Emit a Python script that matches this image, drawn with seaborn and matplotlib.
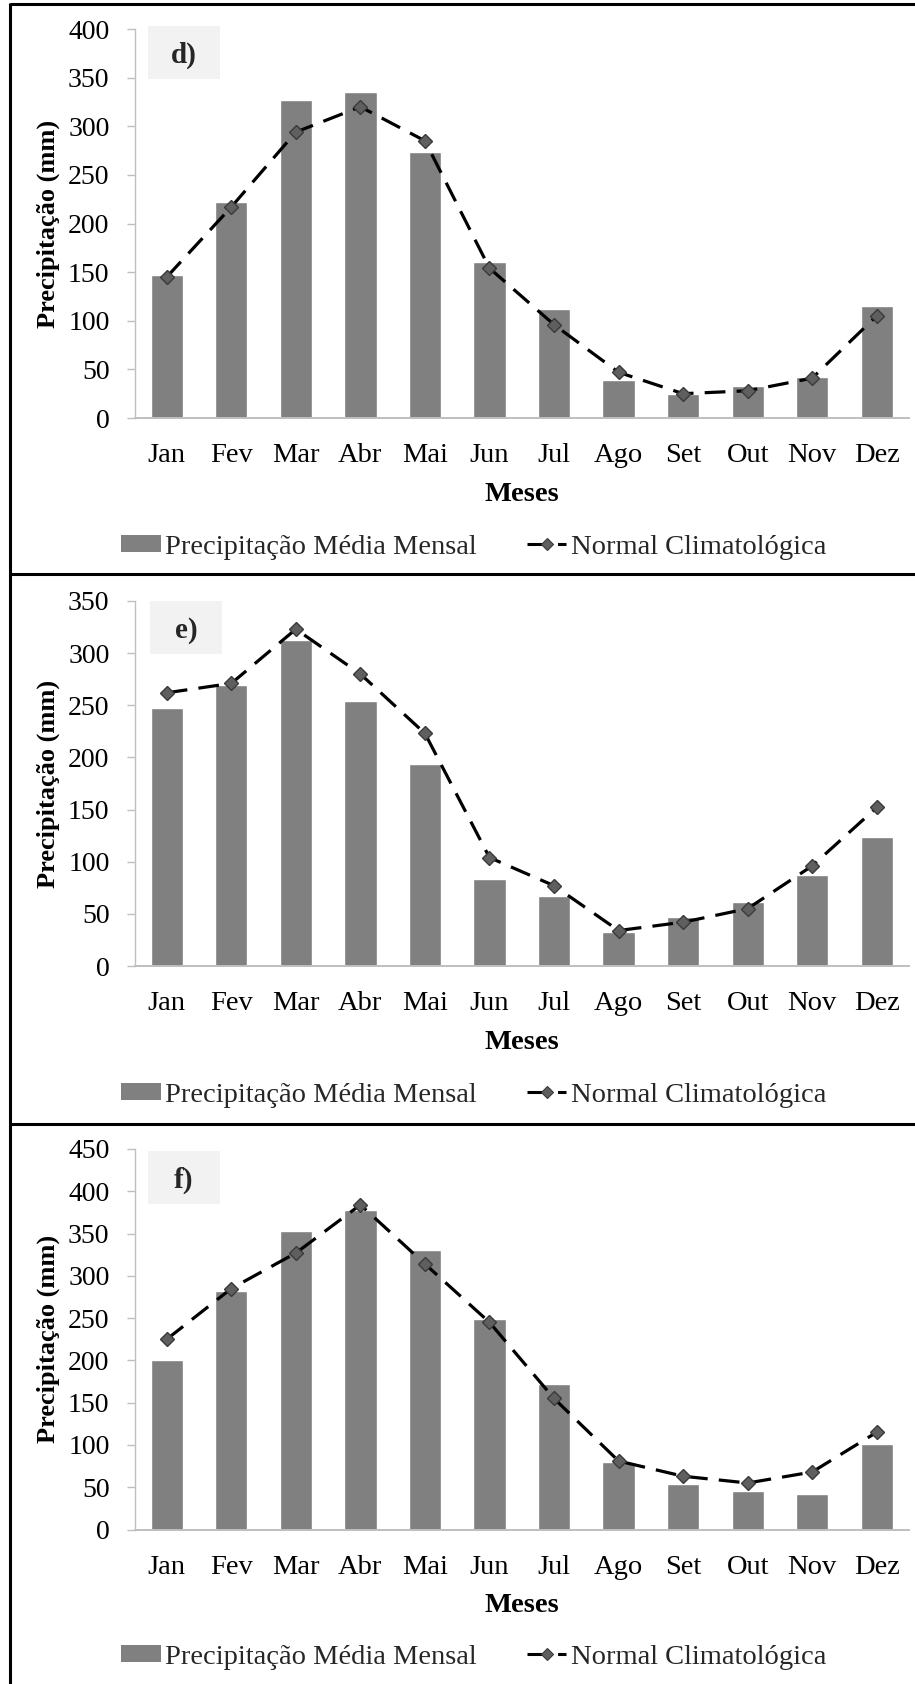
import matplotlib
matplotlib.use("Agg")
import matplotlib.pyplot as plt
from matplotlib.lines import Line2D
from matplotlib.patches import Rectangle
import seaborn as sns
import pandas as pd

# Monthly precipitation (mm): observed monthly mean (bars) and climatological normal (line)
months = ["Jan", "Fev", "Mar", "Abr", "Mai", "Jun", "Jul", "Ago", "Set", "Out", "Nov", "Dez"]

media_d = [147, 222, 327, 335, 274, 160, 112, 39, 25, 33, 42, 115]
normal_d = [145, 217, 294, 320, 285, 154, 96, 47, 25, 28, 41, 105]

media_e = [247, 269, 313, 254, 194, 83, 67, 33, 47, 61, 87, 124]
normal_e = [262, 271, 323, 280, 223, 104, 77, 34, 42, 55, 96, 152]

media_f = [200, 282, 353, 378, 331, 249, 172, 80, 54, 45, 42, 101]
normal_f = [225, 285, 327, 384, 314, 245, 155, 81, 63, 55, 68, 115]

panel_labels = ["d)", "e)", "f)"]
y_max = [400, 350, 450]

bar_label = "Precipitação Média Mensal"
line_label = "Normal Climatológica"
x_title = "Meses"
y_title = "Precipitação (mm)"

sns.set_theme(style="white")
plt.rcParams["font.family"] = ["Liberation Serif", "DejaVu Serif"]

W, H = 915, 1684
fig = plt.figure(figsize=(W / 100, H / 100), dpi=100)

BAR_COLOR = "#808080"
AXIS_GRAY = "#bfbfbf"
FS_X = 20.5   # month labels, axis title, legend
FS_Y = 20     # value ticks
FS_YL = 19    # vertical axis title


def fx(px):
    return px / W


def fy(py):
    return 1 - py / H


# axes frames in pixel rows: (top of y range, zero line)
rows = [(29, 418), (601, 966), (1149, 1529.5)]
box_px = [(148, 220, 26, 79), (150, 222, 601, 654), (148, 220, 1151, 1204)]
legend_y = [547, 1095, 1657]
x_left, x_right = 134.5, 909

series = [(media_d, normal_d), (media_e, normal_e), (media_f, normal_f)]

for i, ((bars, normal), (top, zero)) in enumerate(zip(series, rows)):
    ax = fig.add_axes([fx(x_left), fy(zero), fx(x_right - x_left), (zero - top) / H])
    df = pd.DataFrame({"mes": months, "media": bars, "normal": normal})

    sns.barplot(data=df, x="mes", y="media", color=BAR_COLOR, width=0.5,
                saturation=1, ax=ax, zorder=2)
    sns.lineplot(data=df, x="mes", y="normal", sort=False, ax=ax, color="black",
                 lw=2.3, linestyle=(0, (6.5, 3.5)), marker="D", markersize=7.5,
                 markerfacecolor="#5f5f5f", markeredgecolor="#3a3a3a",
                 markeredgewidth=1, zorder=3)

    ax.set_xlim(-0.5, 11.5)
    ax.set_ylim(0, y_max[i])
    ax.set_yticks(range(0, y_max[i] + 1, 50))

    for side in ("top", "right"):
        ax.spines[side].set_visible(False)
    ax.spines["left"].set_color(AXIS_GRAY)
    ax.spines["left"].set_linewidth(1.0)
    ax.spines["bottom"].set_color(AXIS_GRAY)
    ax.spines["bottom"].set_linewidth(1.4)
    ax.spines["bottom"].set_zorder(4)

    ax.tick_params(axis="y", which="both", left=True, length=6, width=1,
                   color=AXIS_GRAY, pad=12, labelsize=FS_Y, labelcolor="black")
    ax.tick_params(axis="x", which="both", bottom=False, length=0, pad=18,
                   labelsize=FS_X, labelcolor="black")

    ax.set_xlabel(x_title, fontsize=FS_X, fontweight="bold", labelpad=10, color="black")
    ax.set_ylabel(y_title, fontsize=FS_YL, fontweight="bold", labelpad=6, color="black")

    # panel tag on a light box
    bx0, bx1, by0, by1 = box_px[i]
    fig.add_artist(Rectangle((fx(bx0), fy(by1)), fx(bx1 - bx0), (by1 - by0) / H,
                             transform=fig.transFigure, facecolor="#f2f2f2",
                             edgecolor="none", zorder=1))
    fig.text(fx((bx0 + bx1) / 2), fy((by0 + by1) / 2 + 3), panel_labels[i],
             ha="center", va="center", fontsize=21, fontweight="bold", zorder=5)

    handles = [
        Rectangle((0, 0), 1, 1, facecolor=BAR_COLOR, edgecolor="none"),
        Line2D([], [], color="black", lw=2.2, linestyle=(0, (6.5, 3.5)), marker="D",
               markersize=6.5, markerfacecolor="#5f5f5f", markeredgecolor="#3a3a3a",
               markeredgewidth=0.8),
    ]
    fig.legend(handles, [bar_label, line_label], loc="center left",
               bbox_to_anchor=(fx(121), fy(legend_y[i])), bbox_transform=fig.transFigure,
               ncol=2, frameon=False, fontsize=FS_X, handlelength=1.4, handleheight=0.55,
               handletextpad=0.15, columnspacing=1.75, borderpad=0, borderaxespad=0)

# panel frames
frame_kw = dict(color="black", lw=2.2, transform=fig.transFigure, solid_capstyle="butt")
for yy in (4, 574, 1124):
    fig.add_artist(Line2D([fx(9.5), 1], [fy(yy), fy(yy)], **frame_kw))
fig.add_artist(Line2D([fx(9.5), fx(9.5)], [fy(3), 0], **frame_kw))

fig.savefig("out.png", dpi=100, facecolor="white")
